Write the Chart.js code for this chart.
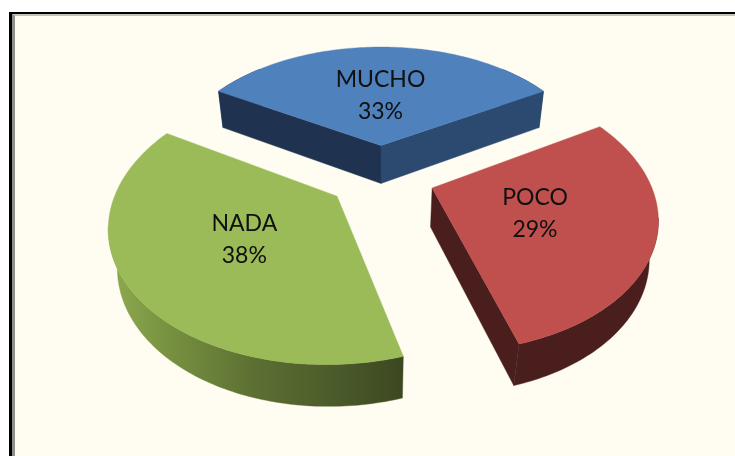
<!DOCTYPE html>
<html>
<head>
<meta charset="utf-8">
<script src="https://cdn.jsdelivr.net/npm/chart.js@4"></script>
<style>
html,body{margin:0;padding:0;background:#fff;width:735px;height:456px;overflow:hidden}
#black{position:absolute;left:9px;top:12px;width:740px;height:460px;box-sizing:border-box;border-left:3px solid #000;border-top:2px solid #000}
#gray{width:100%;height:100%;box-sizing:border-box;border-left:3px solid #8f8f8b;border-top:2px solid #c4c3b8;background:#fffcf2}
canvas{position:absolute;left:0;top:0;filter:blur(0.45px)}
</style>
</head>
<body>
<div id="black"><div id="gray"></div></div>
<canvas id="c" width="735" height="456"></canvas>
<script>
const categories = ['MUCHO', 'POCO', 'NADA'];
const values = [33, 29, 38];
const topColors = ['#4f81bd', '#c0504d', '#9bbb59'];

// Perspective of the tilted pie: constants of the view, not data.
const VIEW = {cx: 381, cy: 176, a: 216, b: 127.7, p: 0.19, h: 40, q: 0.032, explode: 0.25, labelR: 0.48};

function project(x, y, down) {
  const w = 1 - VIEW.p * y + VIEW.q * down;
  return [VIEW.cx + VIEW.a * x / w, VIEW.cy + (VIEW.b * y + VIEW.h * down) / w];
}
// Angle in Chart.js (radians, 0 = +x, clockwise) to ground plane coordinates, +y towards the viewer.
function ground(angle, r, mid) {
  return [VIEW.explode * Math.cos(mid) + r * Math.cos(angle),
          VIEW.explode * Math.sin(mid) + r * Math.sin(angle)];
}
function polygon(ctx, pts) {
  ctx.beginPath();
  pts.forEach((p, i) => i ? ctx.lineTo(p[0], p[1]) : ctx.moveTo(p[0], p[1]));
  ctx.closePath();
}
function fillPoly(ctx, pts, fill) {
  polygon(ctx, pts);
  ctx.fillStyle = fill;
  ctx.fill();
  ctx.strokeStyle = fill;
  ctx.lineWidth = 0.4;
  ctx.stroke();
}

const wallColors = {
  MUCHO: {start: '#2c4970', end: '#1f3350', outer: () => '#2c4970'},
  POCO:  {start: '#4a1e1c', end: '#4a1e1c', outer: () => '#4a1e1c'},
  NADA:  {start: '#3d4822', end: '#3d4822', outer: (ctx) => {
    const g = ctx.createLinearGradient(115, 0, 401, 0);
    g.addColorStop(0, '#8ca84e');
    g.addColorStop(0.2, '#76903f');
    g.addColorStop(0.48, '#5d7033');
    g.addColorStop(0.78, '#4a5a2a');
    g.addColorStop(1, '#3d4822');
    return g;
  }}
};

const pie3d = {
  id: 'pie3d',
  beforeDatasetsDraw(chart) {
    const ctx = chart.ctx;
    const arcs = chart.getDatasetMeta(0).data;
    const total = values.reduce((s, v) => s + v, 0);
    ctx.save();
    arcs.forEach((arc, i) => {
      const s = arc.startAngle, e = arc.endAngle, mid = (s + e) / 2;
      const n = Math.max(8, Math.round((e - s) * 180 / Math.PI));
      const rim = [];
      for (let k = 0; k <= n; k++) rim.push(ground(s + (e - s) * k / n, 1, mid));
      const apex = ground(0, 0, mid);
      const up = g => project(g[0], g[1], 0);
      const low = g => project(g[0], g[1], 1);
      const cols = wallColors[categories[i]];
      const topShape = [up(apex)].concat(rim.map(up));
      // A wall is drawn only where its lower edge falls outside the top face.
      const hidden = g => {
        const q = low(g);
        polygon(ctx, topShape);
        return ctx.isPointInPath(q[0], q[1]);
      };
      const seen = rim.filter((g, k) =>
        !hidden(g) || (k > 0 && !hidden(rim[k - 1])) || (k < n && !hidden(rim[k + 1])));
      if (seen.length > 1) {
        fillPoly(ctx, seen.map(up).concat(seen.slice().reverse().map(low)), cols.outer(ctx));
      }
      [[rim[0], cols.end], [rim[n], cols.start]].forEach(([g, col]) => {
        const half = [(apex[0] + g[0]) / 2, (apex[1] + g[1]) / 2];
        if (!hidden(half)) fillPoly(ctx, [up(apex), up(g), low(g), low(apex)], col);
      });
      fillPoly(ctx, topShape, arc.options.backgroundColor);
    });
    ctx.fillStyle = '#101010';
    ctx.textAlign = 'center';
    ctx.textBaseline = 'middle';
    ctx.font = '23px Lato, "Open Sans", sans-serif';
    arcs.forEach((arc, i) => {
      const mid = (arc.startAngle + arc.endAngle) / 2;
      const g = ground(mid, VIEW.labelR, mid);
      const p = project(g[0], g[1], 0);
      ctx.fillText(categories[i], p[0] - 0.5, p[1] - 15);
      ctx.fillText(Math.round(values[i] / total * 100) + '%', p[0] - 0.5, p[1] + 17);
    });
    ctx.restore();
    return false;
  }
};

new Chart(document.getElementById('c'), {
  type: 'pie',
  data: {labels: categories, datasets: [{data: values, backgroundColor: topColors, borderWidth: 0}]},
  options: {
    responsive: false,
    animation: false,
    rotation: -values[0] / values.reduce((s, v) => s + v, 0) * 180,
    events: [],
    plugins: {legend: {display: false}, tooltip: {enabled: false}}
  },
  plugins: [pie3d]
});
</script>
</body>
</html>
